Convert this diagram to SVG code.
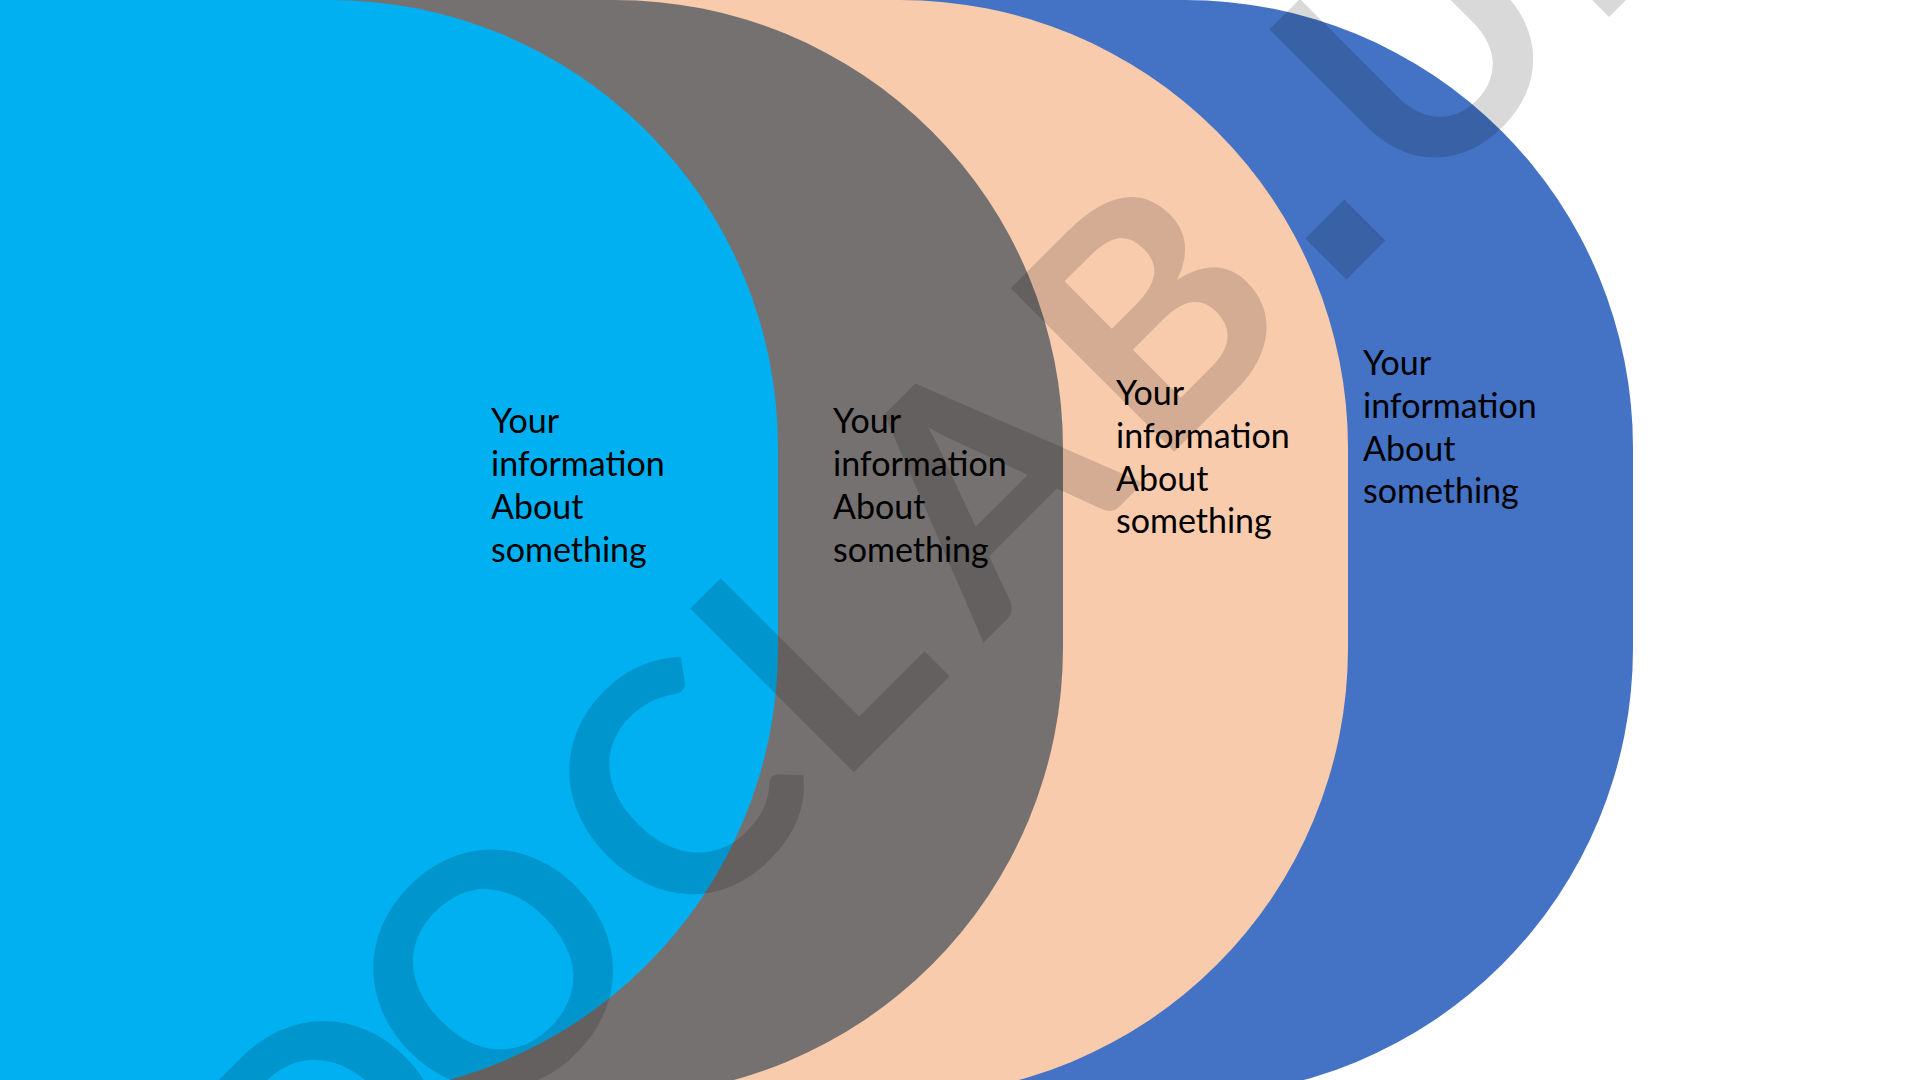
<svg xmlns="http://www.w3.org/2000/svg" width="1920" height="1080" viewBox="0 0 1920 1080">
  <style>
    .lbl { font-family: Lato, "Liberation Sans", sans-serif; font-size: 34px; fill: #000000; }
    .wm { font-family: Lato, "Liberation Sans", sans-serif; font-weight: 700; font-size: 320px; fill: #000000; fill-opacity: 0.15; }
    .dot { font-family: "Liberation Sans", sans-serif; font-size: 390px; }
  </style>
  <rect x="0" y="0" width="1920" height="1080" fill="#FFFFFF"/>
  <g id="node-4">
    <path d="M -200 0 H 1185 A 448 448 0 0 1 1633 448 V 648 A 448 448 0 0 1 1185 1096 H -200 Z" fill="#4472C4"/>
  </g>
  <g id="node-3">
    <path d="M -200 0 H 900 A 448 448 0 0 1 1348 448 V 648 A 448 448 0 0 1 900 1096 H -200 Z" fill="#F8CBAD"/>
  </g>
  <g id="node-2">
    <path d="M -200 0 H 615 A 448 448 0 0 1 1063 448 V 648 A 448 448 0 0 1 615 1096 H -200 Z" fill="#767171"/>
  </g>
  <g id="node-1">
    <path d="M -200 0 H 330 A 448 448 0 0 1 778 448 V 648 A 448 448 0 0 1 330 1096 H -200 Z" fill="#00B0F0"/>
  </g>
  <g id="connectors"></g>
  <g id="labels">
    <text class="lbl" x="491"><tspan x="491" y="433">Your</tspan><tspan x="491" y="476">information</tspan><tspan x="491" y="519">About</tspan><tspan x="491" y="562">something</tspan></text>
    <text class="lbl" x="833"><tspan x="833" y="433">Your</tspan><tspan x="833" y="476">information</tspan><tspan x="833" y="519">About</tspan><tspan x="833" y="562">something</tspan></text>
    <text class="lbl" x="1116"><tspan x="1116" y="405">Your</tspan><tspan x="1116" y="448">information</tspan><tspan x="1116" y="491">About</tspan><tspan x="1116" y="533">something</tspan></text>
    <text class="lbl" x="1363"><tspan x="1363" y="375">Your</tspan><tspan x="1363" y="418">information</tspan><tspan x="1363" y="461">About</tspan><tspan x="1363" y="503">something</tspan></text>
  </g>
  <g id="watermark" transform="translate(813 813) rotate(-45)">
    <text class="wm" y="0"><tspan x="-692 -466 -188 32 243 485" y="0">DOCLAB</tspan><tspan class="dot" x="728" y="0">.</tspan><tspan x="854 1100" y="0">UK</tspan></text>
  </g>
</svg>
